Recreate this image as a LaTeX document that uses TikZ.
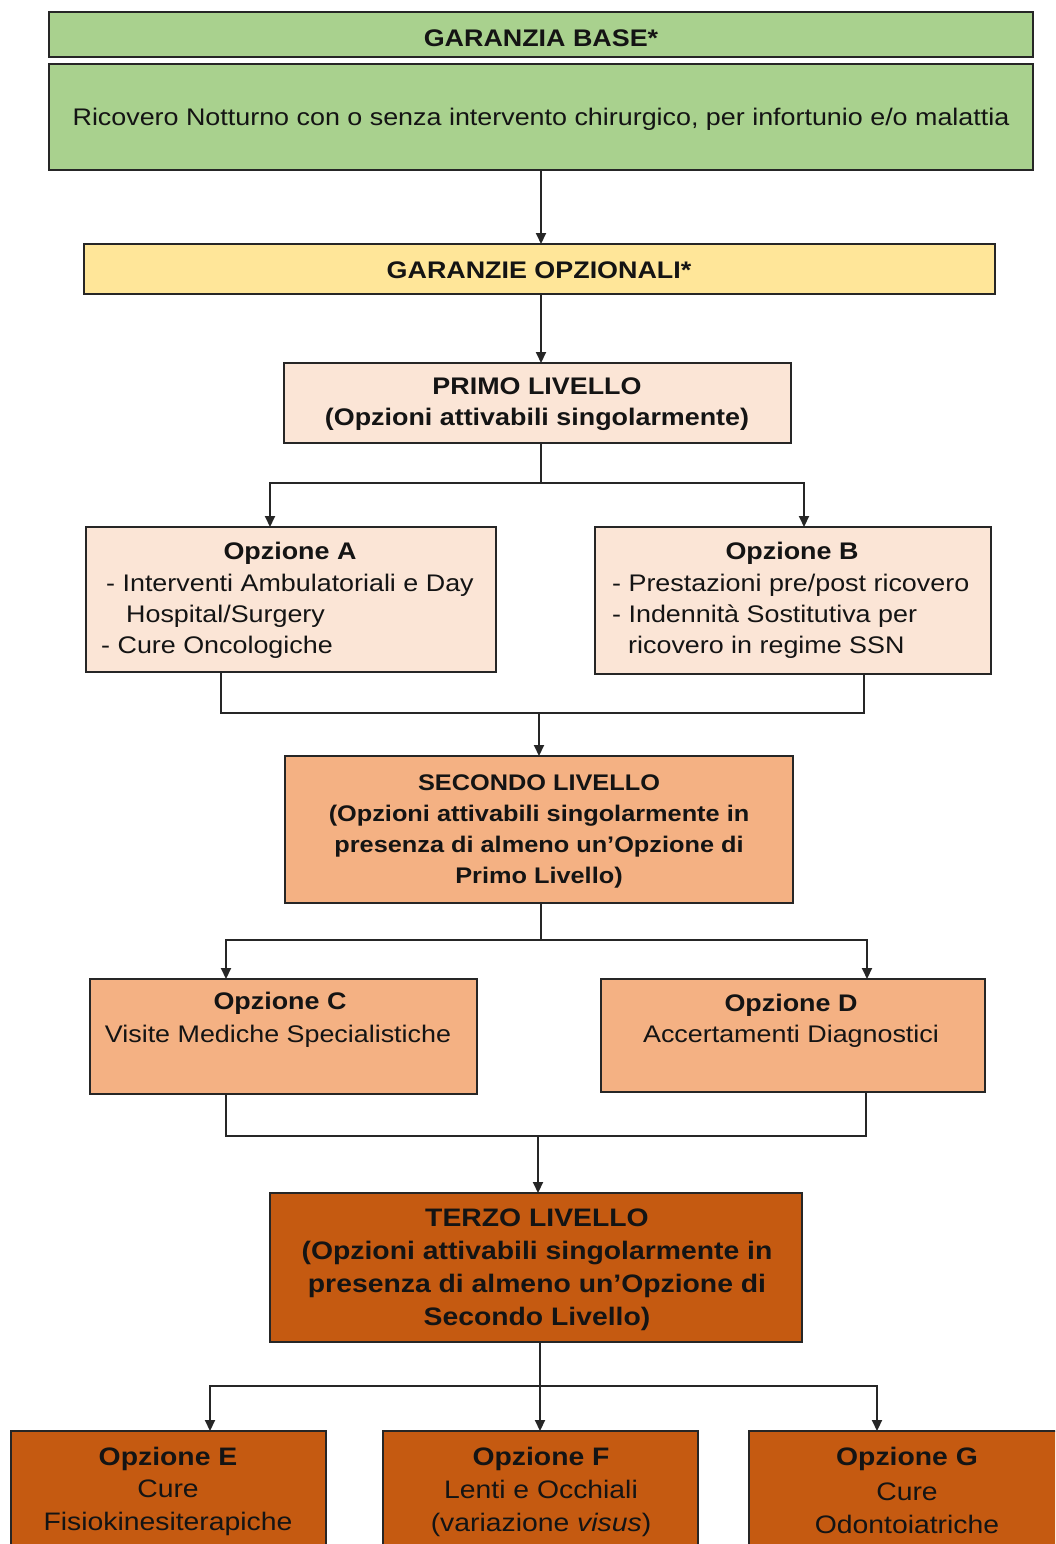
\documentclass[tikz,border=0pt]{standalone}
\usepackage{fontspec}
\setmainfont{Liberation Sans}[FakeStretch=1.12]
\usetikzlibrary{arrows.meta}
\definecolor{cgreen}{HTML}{A9D18E}
\definecolor{cyellow}{HTML}{FFE699}
\definecolor{cpale}{HTML}{FBE5D6}
\definecolor{clight}{HTML}{F4B183}
\definecolor{cdark}{HTML}{C55A11}
\definecolor{cline}{HTML}{262626}
\newcommand\fsz[2]{\fontsize{#1}{#2}\selectfont}
\newcommand\mybox[6]{\node[box, fill=#6, minimum width={#4-#2}, minimum height={#5-#3}] (#1) at (#2,#3) {};}
\begin{document}
\begin{tikzpicture}[x=1pt,y=-1pt,
  box/.style={draw=cline, line width=2pt, anchor=north west, inner sep=0pt, outer sep=0pt},
  conn/.style={draw=cline, line width=2pt},
  arr/.style={conn, -{Triangle[length=11pt,width=10pt]}},
  txt/.style={align=center, inner sep=0pt, text=black!92},
  tb/.style={txt, font=\bfseries\fsz{24}{31}},
  tr/.style={txt, font=\fsz{24}{31}},
  tsb/.style={txt, font=\bfseries\fsz{22.6}{31}},
  tbig/.style={txt, font=\bfseries\fsz{25.3}{33}},
  tbigr/.style={txt, font=\fsz{25.3}{33}}]
\useasboundingbox (0,0) rectangle (1055,1544);
\clip (0,0) rectangle (1055,1544);
\fill[white] (0,0) rectangle (1055,1544);

% boxes
\mybox{base}{49}{12}{1033}{57}{cgreen}
\mybox{ricov}{49}{64}{1033}{170}{cgreen}
\mybox{opz}{84}{244}{995}{294}{cyellow}
\mybox{primo}{284}{363}{791}{443}{cpale}
\mybox{optA}{86}{527}{496}{672}{cpale}
\mybox{optB}{595}{527}{991}{674}{cpale}
\mybox{sec}{285}{756}{793}{903}{clight}
\mybox{optC}{90}{979}{477}{1094}{clight}
\mybox{optD}{601}{979}{985}{1092}{clight}
\mybox{terzo}{270}{1193}{802}{1342}{cdark}
\mybox{optE}{11}{1431}{326}{1600}{cdark}
\mybox{optF}{383}{1431}{698}{1600}{cdark}
\mybox{optG}{749}{1431}{1070}{1600}{cdark}

% texts
\node[tb] (tbase) at (541,38) {GARANZIA BASE*};
\node[tr] (tricov) at (541,119) {Ricovero Notturno con o senza intervento chirurgico, per infortunio e/o malattia};
\node[tb] (topz) at (539,270) {GARANZIE OPZIONALI*};
\node[tb] (tprimo) at (537,404) {PRIMO LIVELLO\\(Opzioni attivabili singolarmente)};
\node[tb] (tA1) at (290,553) {Opzione A};
\node[tr, align=left, anchor=west] (tA2) at (101,616) {\hspace*{5pt}- Interventi Ambulatoriali e Day\\\hspace*{25pt}Hospital/Surgery\\- Cure Oncologiche};
\node[tb] (tB1) at (792,553) {Opzione B};
\node[tr, align=left, anchor=west] (tB2) at (612,616) {- Prestazioni pre/post ricovero\\- Indennità Sostitutiva per\\\hspace*{16pt}ricovero in regime SSN};
\node[tsb] (tsec) at (539,831) {SECONDO LIVELLO\\(Opzioni attivabili singolarmente in\\presenza di almeno un’Opzione di\\Primo Livello)};
\node[tb] (tC1) at (280,1003) {Opzione C};
\node[tr] (tC2) at (278,1036) {Visite Mediche Specialistiche};
\node[tb] (tD1) at (791,1005) {Opzione D};
\node[tr] (tD2) at (791,1036) {Accertamenti Diagnostici};
\node[tbig] (tterzo) at (537,1270) {TERZO LIVELLO\\(Opzioni attivabili singolarmente in\\presenza di almeno un’Opzione di\\Secondo Livello)};
\node[tbig] (tE1) at (168,1459) {Opzione E};
\node[tbigr] (tE2) at (168,1508) {Cure\\Fisiokinesiterapiche};
\node[tbig] (tF1) at (541,1459) {Opzione F};
\node[tbigr] (tF2) at (541,1508) {Lenti e Occhiali\\(variazione \textit{visus})};
\node[tbig] (tG1) at (907,1459) {Opzione G};
\node[tbigr] (tG2) at (907,1508) {Cure\\Odontoiatriche};

% connector coordinates
\coordinate (j1) at (541,483);
\coordinate (inA) at (270,527);
\coordinate (inB) at (804,527);
\coordinate (outA) at (221,672);
\coordinate (outB) at (864,674);
\coordinate (m1) at (539,713);
\coordinate (j2) at (541,940);
\coordinate (inC) at (226,979);
\coordinate (inD) at (867,979);
\coordinate (outC) at (226,1094);
\coordinate (outD) at (866,1092);
\coordinate (m2) at (538,1136);
\coordinate (inT) at (538,1193);
\coordinate (j3) at (540,1386);
\coordinate (inE) at (210,1431);
\coordinate (inF) at (540,1431);
\coordinate (inG) at (877,1431);

% connectors
\draw[arr] (ricov.south) -- (ricov.south |- opz.north);
\draw[arr] (ricov.south |- opz.south) -- (ricov.south |- primo.north);
\draw[arr] (j1 |- primo.south) -- (j1) -| (inA);
\draw[arr] (j1) -| (inB);
\draw[conn] (outA) |- (m1) -| (outB);
\draw[arr] (m1) -- (sec.north);
\draw[arr] (j2 |- sec.south) -- (j2) -| (inC);
\draw[arr] (j2) -| (inD);
\draw[conn] (outC) |- (m2) -| (outD);
\draw[arr] (m2) -- (inT);
\draw[arr] (j3 |- terzo.south) -- (j3) -| (inE);
\draw[arr] (j3) -- (inF);
\draw[arr] (j3) -| (inG);
\end{tikzpicture}
\end{document}
